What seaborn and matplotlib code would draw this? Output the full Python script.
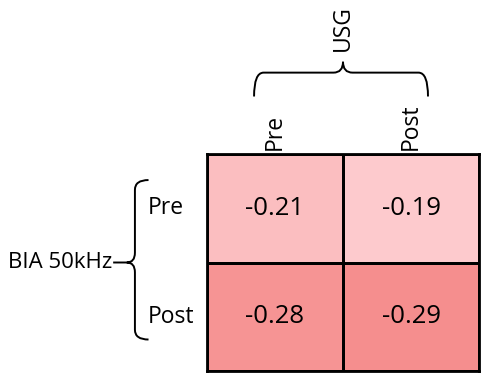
import numpy as np
import pandas as pd
import matplotlib.pyplot as plt
import seaborn as sns
from matplotlib.path import Path
from matplotlib.patches import PathPatch
from matplotlib.colors import LinearSegmentedColormap

# ---------- data ----------
usg_labels = ['Pre', 'Post']
bia_labels = ['Pre', 'Post']
corr_pre = [-0.21, -0.19]
corr_post = [-0.28, -0.29]

df = pd.DataFrame([corr_pre, corr_post], index=bia_labels, columns=usg_labels)

sns.set_theme(style='white')
plt.rcParams['font.family'] = ['Open Sans', 'DejaVu Sans']
plt.rcParams['text.color'] = 'black'
plt.rcParams['xtick.color'] = 'black'
plt.rcParams['ytick.color'] = 'black'

cmap = LinearSegmentedColormap.from_list('pinks', ['#F58E8E', '#FDCACD'])

fig = plt.figure(figsize=(4.84, 3.76), dpi=100)
ax = fig.add_axes([207 / 484, 1 - 371 / 376, 272 / 484, 217 / 376])

sns.heatmap(df, ax=ax, cmap=cmap, vmin=-0.29, vmax=-0.19, cbar=False,
            annot=True, fmt='.2f', annot_kws={'size': 18.5, 'color': 'black'},
            linewidths=0.8, linecolor='black')

for s in ax.spines.values():
    s.set_visible(True)
    s.set_color('black')
    s.set_linewidth(2)

# column labels on top, rotated
ax.xaxis.tick_top()
ax.set_xticklabels(usg_labels, rotation=90, fontsize=16.5)
ax.tick_params(axis='x', length=0, pad=3, labelcolor='black')
# row labels left aligned
ax.set_yticklabels(bia_labels, rotation=0, fontsize=16.5, ha='left')
ax.tick_params(axis='y', length=0, pad=43, labelcolor='black')
ax.set_xlabel('')
ax.set_ylabel('')


def brace(ax, pts):
    verts, codes = zip(*pts)
    p = PathPatch(Path(verts, codes), fill=False, lw=1.4, color='black',
                  clip_on=False)
    ax.add_patch(p)


M, C, L = Path.MOVETO, Path.CURVE3, Path.LINETO

# top brace (data coords, y inverted)
x0, xm, x1 = 0.346, 1.0, 1.625
ye, yl, yt = -0.53, -0.75, -0.85
r = 0.07
brace(ax, [((x0, ye), M), ((x0, yl), C), ((x0 + r, yl), C),
           ((xm - r, yl), L), ((xm, yl), C), ((xm, yt), C),
           ((xm, yl), C), ((xm + r, yl), C),
           ((x1 - r, yl), L), ((x1, yl), C), ((x1, ye), C)])

# left brace
xe, xl, xt = -0.43, -0.53, -0.69
y0, ym, y1 = 0.24, 1.0, 1.71
ry = 0.09
brace(ax, [((xe, y0), M), ((xl, y0), C), ((xl, y0 + ry), C),
           ((xl, ym - ry), L), ((xl, ym), C), ((xl - 0.06, ym), C),
           ((xt, ym), L), ((xl - 0.06, ym), M), ((xl, ym), C), ((xl, ym + ry), C),
           ((xl, y1 - ry), L), ((xl, y1), C), ((xe, y1), C)])

ax.text(xt - 0.01, ym, 'BIA 50kHz', ha='right', va='center', fontsize=16)
ax.text(xm, yt - 0.1, 'USG', ha='center', va='bottom', rotation=90,
        fontsize=16.5)

plt.savefig('out.png', dpi=100)
